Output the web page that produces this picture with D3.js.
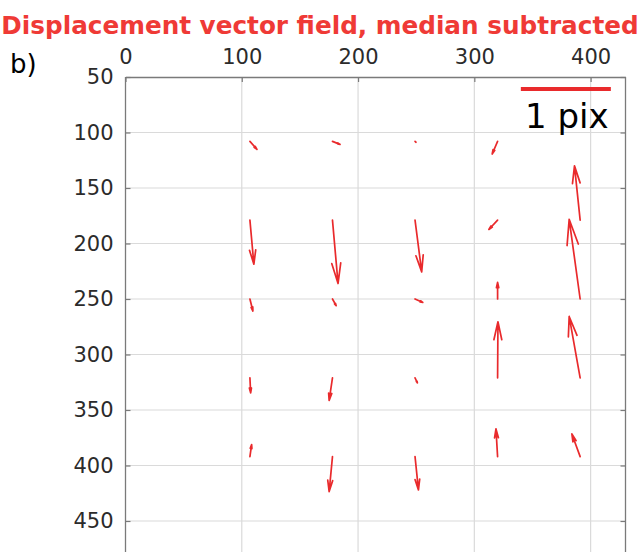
<!DOCTYPE html>
<html>
<head>
<meta charset="utf-8">
<script src="https://cdn.jsdelivr.net/npm/d3@7"></script>
<style>
  html, body { margin: 0; padding: 0; background: #fff; }
  svg { display: block; font-family: 'DejaVu Sans', sans-serif; }
</style>
</head>
<body>
<div id="chart"></div>
<script>
// grid positions (image pixels) of the vector tails
const gridX = [107, 178, 249, 320, 391];
const gridY = [108, 179, 250, 321, 392];

// displacement in pix, rows follow gridY, columns follow gridX (null = no vector)
const U = [
  [0.078, 0.084, 0.010, -0.060, null],
  [0.044, 0.062, 0.074, -0.097, -0.063],
  [0.033, 0.041, 0.086, 0.000, -0.122],
  [0.008, -0.037, 0.026, 0.004, -0.122],
  [0.019, -0.037, 0.038, -0.018, -0.092]
];
const V = [
  [0.093, 0.035, 0.010, 0.147, null],
  [0.512, 0.737, 0.602, 0.108, -0.632],
  [0.140, 0.078, 0.040, -0.194, -0.928],
  [0.175, 0.264, 0.058, -0.652, -0.714],
  [-0.140, 0.407, 0.388, -0.322, -0.264]
];

const xTicks = [0, 100, 200, 300, 400];
const yTicks = [50, 100, 150, 200, 250, 300, 350, 400, 450];

(function() {
  'use strict';

  const W = 640, H = 552;
  const left = 125.5, right = 625.5, top = 77;
  const arrowScale = 77.4;   // data units per 1 pix
  const red = '#e92a2c';

  const svg = d3.select('#chart')
    .append('svg')
    .attr('width', W)
    .attr('height', H);

  // scales (y runs down, plot continues below the window)
  const x = d3.scaleLinear().domain([0, 430]).range([left, right]);
  const y = d3.scaleLinear().domain([50, 500]).range([top, top + 450 * 1.11]);
  const bottom = y(500);

  // grid lines
  svg.append('g')
    .selectAll('line')
    .data(xTicks.slice(1))
    .enter()
    .append('line')
    .attr('x1', d => x(d)).attr('x2', d => x(d))
    .attr('y1', top).attr('y2', bottom)
    .attr('stroke', '#dadada')
    .attr('stroke-width', 1.2);

  svg.append('g')
    .selectAll('line')
    .data(yTicks.slice(1))
    .enter()
    .append('line')
    .attr('x1', left).attr('x2', right)
    .attr('y1', d => y(d)).attr('y2', d => y(d))
    .attr('stroke', '#dadada')
    .attr('stroke-width', 1.2);

  // axes (ticks inside)
  const axisColor = '#7a7a7a';
  const styleAxis = g => {
    g.select('.domain').attr('stroke', axisColor).attr('stroke-width', 1.3);
    g.selectAll('.tick line').attr('stroke', axisColor).attr('stroke-width', 1.2);
    g.selectAll('text')
      .attr('font-size', '21px')
      .attr('font-family', 'DejaVu Sans, sans-serif')
      .attr('fill', '#2b2b2b');
  };

  svg.append('g')
    .attr('transform', `translate(0,${top})`)
    .call(d3.axisTop(x).tickValues(xTicks).tickSizeInner(-5).tickSizeOuter(0).tickPadding(13))
    .call(styleAxis);

  svg.append('g')
    .attr('transform', `translate(${left},0)`)
    .call(d3.axisLeft(y).tickValues(yTicks).tickSizeInner(-5).tickSizeOuter(0).tickPadding(12))
    .call(styleAxis);

  svg.append('g')
    .attr('transform', `translate(${right},0)`)
    .call(d3.axisRight(y).tickValues(yTicks).tickSizeInner(-5).tickSizeOuter(0).tickFormat(''))
    .call(styleAxis);

  // extend the side axes past the window bottom
  svg.selectAll('.domain').filter((d, i) => i > 0)
    .attr('d', null);
  [left, right].forEach(px => {
    svg.append('line')
      .attr('x1', px).attr('x2', px)
      .attr('y1', top).attr('y2', bottom)
      .attr('stroke', axisColor)
      .attr('stroke-width', 1.3);
  });

  // build vectors in screen space
  const vectors = [];
  gridY.forEach((gy, r) => {
    gridX.forEach((gx, c) => {
      if (U[r][c] === null) return;
      const x0 = x(gx), y0 = y(gy);
      const x1 = x(gx + U[r][c] * arrowScale);
      const y1 = y(gy + V[r][c] * arrowScale);
      vectors.push({ x0, y0, x1, y1 });
    });
  });

  // quiver style arrow: shaft + two head wings
  const alpha = 0.32, beta = 0.22;
  const arrowPath = d => {
    const du = d.x1 - d.x0, dv = d.y1 - d.y0;
    const w1x = d.x1 - alpha * (du + beta * dv);
    const w1y = d.y1 - alpha * (dv - beta * du);
    const w2x = d.x1 - alpha * (du - beta * dv);
    const w2y = d.y1 - alpha * (dv + beta * du);
    return `M${d.x0},${d.y0}L${d.x1},${d.y1}M${w1x},${w1y}L${d.x1},${d.y1}L${w2x},${w2y}`;
  };

  svg.append('g')
    .selectAll('path')
    .data(vectors)
    .enter()
    .append('path')
    .attr('d', arrowPath)
    .attr('fill', 'none')
    .attr('stroke', red)
    .attr('stroke-width', 1.7)
    .attr('stroke-linejoin', 'round')
    .attr('stroke-linecap', 'round');

  // scale bar: 1 pix
  const barX = 340;
  svg.append('line')
    .attr('x1', x(barX)).attr('x2', x(barX + arrowScale))
    .attr('y1', 89).attr('y2', 89)
    .attr('stroke', red)
    .attr('stroke-width', 4);

  svg.append('text')
    .attr('x', 525)
    .attr('y', 128)
    .attr('font-size', '34px')
    .attr('fill', '#000')
    .text('1 pix');

  // title and panel label
  svg.append('text')
    .attr('x', 320)
    .attr('y', 34)
    .attr('text-anchor', 'middle')
    .attr('font-size', '24.7px')
    .attr('font-weight', 'bold')
    .attr('fill', '#ef3a36')
    .text('Displacement vector field, median subtracted');

  svg.append('text')
    .attr('x', 10)
    .attr('y', 73)
    .attr('font-size', '26px')
    .attr('fill', '#000')
    .text('b)');
})();
</script>
</body>
</html>
